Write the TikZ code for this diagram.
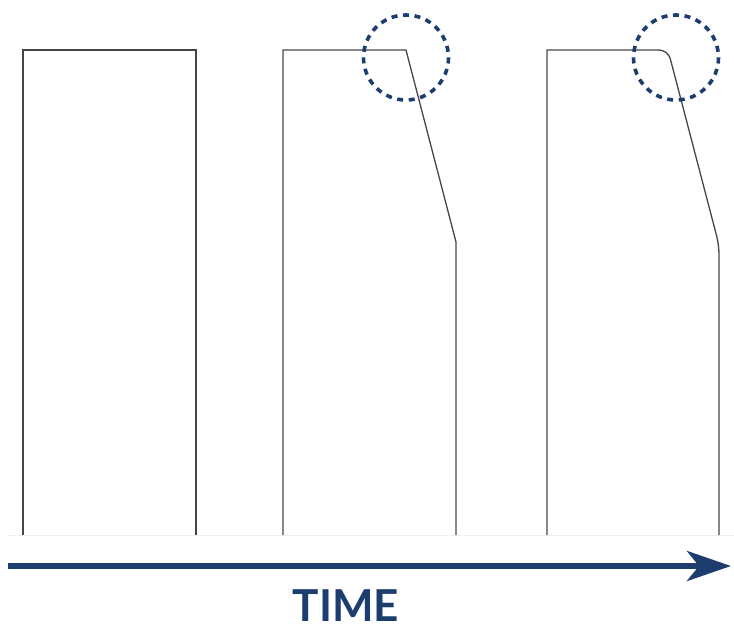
\documentclass[tikz,border=0pt]{standalone}
\usepackage{fontspec}
\setmainfont{Lato}
\usetikzlibrary{arrows.meta}
\definecolor{navy}{RGB}{28,61,110}
\definecolor{wire}{RGB}{70,70,70}
\tikzset{
  pulse/.style={draw=wire, line width=1.3pt, line join=miter},
  ring/.style={draw=navy, line width=3.6pt, dash pattern=on 6pt off 5.6pt},
  timearrow/.style={draw=navy, line width=5.5pt, -{Stealth[length=44pt,width=30pt,inset=12pt]}},
  label/.style={text=navy, font=\fontsize{44}{44}\selectfont\bfseries, inner sep=0pt}
}
\begin{document}
\begin{tikzpicture}[x=1pt,y=-1pt]
\useasboundingbox (0,0) rectangle (734,627);
% faint baseline
\draw[gray!12, line width=1pt] (8,535) -- (734,535);
% pulse 1
\draw[pulse] (23,535) -- (23,50) -- (196,50) -- (196,535);
% pulse 2
\draw[pulse] (283,535) -- (283,50) -- (406,50) -- (456,242) -- (456,535);
% pulse 3 (rounded right corners)
\draw[pulse] (547,535) -- (547,50) -- (560,50) [rounded corners=9pt] -- (668,50) -- (719,245) -- (719,535);
% circles
\draw[ring] (406,57.5) circle[radius=42.5];
\draw[ring] (676,57.5) circle[radius=42.5];
% time arrow
\coordinate (tstart) at (8,566);
\coordinate (tend) at (731,566);
\draw[timearrow] (tstart) -- (tend);
\node[label, anchor=base] (time) at (346,621) {TIME};
\end{tikzpicture}
\end{document}
